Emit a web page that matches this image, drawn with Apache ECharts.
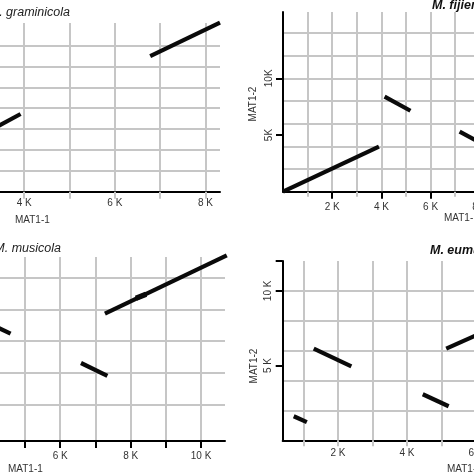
<!DOCTYPE html>
<html>
<head>
<meta charset="utf-8">
<script src="https://cdn.jsdelivr.net/npm/echarts@6/dist/echarts.min.js"></script>
<style>html,body{margin:0;padding:0;background:#fff;}#c{width:474px;height:474px;}</style>
</head>
<body>
<div id="c"></div>
<script>
// ---- Data (bp) ----
const titles = ['M. graminicola', 'M. fijiensis', 'M. musicola', 'M. eumusae'];
const xName = 'MAT1-1';
const yName = 'MAT1-2';

// dot-plot segments per panel: [[x1,y1],[x2,y2]]
const graminicolaSegs = [[[3300, 6000], [3920, 7450]], [[6780, 13000], [8320, 16200]]];
const fijiensisSegs = [[[0, 0], [3900, 3970]], [[4130, 8380], [5180, 7140]], [[7180, 5290], [8200, 4120]]];
const musicolaSegs = [[[3900, 7200], [4590, 6460]], [[6590, 4610], [7340, 3790]], [[7270, 7730], [10730, 11410]]];
const musicolaOverlap = [[8150, 8700], [8440, 8960]];
const eumusaeSegs = [[[720, 1610], [1100, 1220]], [[1300, 6130], [2390, 4950]], [[4460, 3080], [5210, 2280]], [[5140, 6130], [6600, 7650]]];

// grid-line values and tick labels
const p1XGrid = [1000, 2000, 3000, 4000, 5000, 6000, 7000, 8000];
const p1YGrid = [2000, 4000, 6000, 8000, 10000, 12000, 14000];
const p1XLabels = [2000, 4000, 6000, 8000];
const p2XGrid = [1000, 2000, 3000, 4000, 5000, 6000, 7000, 8000, 9000];
const p2YGrid = [2000, 4000, 6000, 8000, 10000, 12000, 14000];
const p2XLabels = [2000, 4000, 6000, 8000];
const p2YLabels = [5000, 10000];
const p3XGrid = [1000, 2000, 3000, 4000, 5000, 6000, 7000, 8000, 9000, 10000];
const p3YGrid = [2000, 4000, 6000, 8000, 10000];
const p3XTicks = [1000, 2000, 3000, 4000, 5000, 6000, 7000, 8000, 9000, 10000];
const p3XLabels = [2000, 4000, 6000, 8000, 10000];
const p4XGrid = [1000, 2000, 3000, 4000, 5000, 6000];
const p4YGrid = [2000, 4000, 6000, 8000, 10000];
const p4XLabels = [2000, 4000, 6000];
const p4YTicks = [5000, 10000, 12000];
const p4YLabels = [5000, 10000];

const GRAY = '#c6c6c6';
const FONT = 'Liberation Sans';
const kfmt = v => (v / 1000) + ' K';
const kfmtTight = v => (v / 1000) + 'K';

const panels = [
  { grid: { left: 0, top: 23, width: 220, height: 168.7 },
    x: { min: 3466, max: 8320, grid: p1XGrid, gridTick: 7, ticks: null, labels: p1XLabels, margin: 7, fmt: kfmt },
    y: { min: 0, max: 16170, grid: p1YGrid, show: false },
    segs: graminicolaSegs },
  { grid: { left: 283, top: 12, width: 221.4, height: 179.7 },
    x: { min: 0, max: 9000, grid: p2XGrid, gridTick: 5, ticks: p2XLabels, tickLen: 7, labels: p2XLabels, margin: 11, fmt: kfmt },
    y: { min: 0, max: 15850, grid: p2YGrid, show: true, ticks: p2YLabels, tickLen: 7, labels: p2YLabels, margin: 9, fmt: kfmtTight },
    segs: fijiensisSegs },
  { grid: { left: 0, top: 257, width: 225, height: 184 },
    x: { min: 4290, max: 10680, grid: p3XGrid, gridTick: 0, ticks: p3XTicks, tickLen: 7, labels: p3XLabels, margin: 10, fmt: kfmt },
    y: { min: -320, max: 11310, grid: p3YGrid, show: false },
    segs: musicolaSegs },
  { grid: { left: 282.7, top: 261, width: 227.7, height: 179.3 },
    x: { min: 400, max: 7000, grid: p4XGrid, gridTick: 6, ticks: null, labels: p4XLabels, margin: 8, fmt: kfmt },
    y: { min: 0, max: 12000, grid: p4YGrid, show: true, ticks: p4YTicks, tickLen: 7, labels: p4YLabels, margin: 9, fmt: kfmt },
    segs: eumusaeSegs }
];

const grids = [], xAxes = [], yAxes = [], series = [];
const labelStyle = { color: '#333', fontSize: 10, fontFamily: FONT };

panels.forEach((p, i) => {
  grids.push(Object.assign({ containLabel: false, outerBoundsMode: 'none' }, p.grid));
  // grid-line x axis
  xAxes.push({ type: 'value', gridIndex: i, min: p.x.min, max: p.x.max, position: 'bottom',
    axisLine: { show: false, onZero: false },
    axisTick: { show: p.x.gridTick > 0, customValues: p.x.grid, length: p.x.gridTick || 5, lineStyle: { color: GRAY, width: 2 } },
    axisLabel: { show: false },
    splitLine: { show: true, lineStyle: { color: GRAY, width: 2 } } });
  // labelled x axis
  xAxes.push({ type: 'value', gridIndex: i, min: p.x.min, max: p.x.max, position: 'bottom',
    axisLine: { show: true, onZero: false, lineStyle: { color: '#000', width: 2 } },
    axisTick: p.x.ticks ? { show: true, customValues: p.x.ticks, length: p.x.tickLen, lineStyle: { color: '#000', width: 2 } } : { show: false },
    axisLabel: Object.assign({ customValues: p.x.labels, formatter: p.x.fmt, margin: p.x.margin }, labelStyle),
    splitLine: { show: false } });
  // grid-line y axis
  yAxes.push({ type: 'value', gridIndex: i, min: p.y.min, max: p.y.max, position: 'left',
    axisLine: { show: false, onZero: false },
    axisTick: { show: false, customValues: p.y.grid },
    axisLabel: { show: false },
    splitLine: { show: true, lineStyle: { color: GRAY, width: 2 } } });
  // labelled y axis
  yAxes.push({ type: 'value', gridIndex: i, min: p.y.min, max: p.y.max, position: 'left', show: p.y.show,
    axisLine: { show: true, onZero: false, lineStyle: { color: '#000', width: 2 } },
    axisTick: p.y.ticks ? { show: true, customValues: p.y.ticks, length: p.y.tickLen, lineStyle: { color: '#000', width: 2 } } : { show: false },
    axisLabel: Object.assign({ customValues: p.y.labels || [], formatter: p.y.fmt, margin: p.y.margin || 8, rotate: 90 }, labelStyle),
    splitLine: { show: false } });
  p.segs.forEach(s => {
    series.push({ type: 'line', xAxisIndex: 2 * i, yAxisIndex: 2 * i, data: s, symbol: 'none', clip: false,
      lineStyle: { color: '#0a0a0a', width: 4.2, cap: 'butt' }, silent: true, z: 5 });
  });
});
series.push({ type: 'line', xAxisIndex: 4, yAxisIndex: 4, data: musicolaOverlap, symbol: 'none', clip: false,
  lineStyle: { color: '#0a0a0a', width: 5.5, cap: 'butt' }, silent: true, z: 5 });

function txt(text, x, y, opts) {
  return Object.assign({ type: 'text', x: x, y: y, silent: true, z: 100,
    style: Object.assign({ text: text, fill: '#333', font: '10px "' + FONT + '"', textAlign: 'left', textVerticalAlign: 'middle' }, opts && opts.style || {}) },
    opts && opts.rotation !== undefined ? { rotation: opts.rotation } : {});
}
const TF = '12.5px "' + FONT + '"';
const graphics = [
  txt(titles[0], 70, 13, { style: { textAlign: 'right', font: 'italic ' + TF, fill: '#222' } }),
  txt(titles[1], 432, 6, { style: { font: 'italic bold ' + TF, fill: '#111' } }),
  txt(titles[2], 61, 249, { style: { textAlign: 'right', font: 'italic ' + TF, fill: '#222' } }),
  txt(titles[3], 430, 251, { style: { font: 'italic bold ' + TF, fill: '#111' } }),
  txt(xName, 15, 220, {}),
  txt(xName, 444, 218, {}),
  txt(xName, 8, 469, {}),
  txt(xName, 447, 469, {}),
  txt(yName, 253.5, 104, { rotation: Math.PI / 2, style: { textAlign: 'center' } }),
  txt(yName, 254, 366, { rotation: Math.PI / 2, style: { textAlign: 'center' } })
];

const chart = echarts.init(document.getElementById('c'), null, { renderer: 'canvas' });
chart.setOption({
  animation: false,
  backgroundColor: '#fff',
  grid: grids,
  xAxis: xAxes,
  yAxis: yAxes,
  series: series,
  graphic: graphics
});
</script>
</body>
</html>
